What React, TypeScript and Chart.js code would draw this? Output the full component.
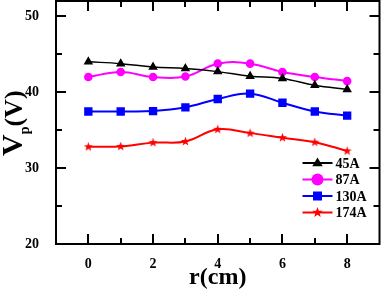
import React, { useEffect, useRef } from 'react';
import { Chart, registerables } from 'chart.js';

Chart.register(...registerables);

const radii = [0, 1, 2, 3, 4, 5, 6, 7, 8];
const vp45 = [44.0, 43.75, 43.3, 43.1, 42.7, 42.1, 41.8, 40.9, 40.35];
const vp87 = [42.0, 42.65, 42.0, 42.05, 43.75, 43.75, 42.65, 42.0, 41.45];
const vp130 = [37.45, 37.45, 37.5, 38.0, 39.1, 39.8, 38.6, 37.45, 36.9];
const vp174 = [32.8, 32.85, 33.35, 33.5, 35.1, 34.6, 34.0, 33.4, 32.25];
const seriesLabels = ['45A', '87A', '130A', '174A'];
const seriesColors = ['#000000', '#ff00ff', '#0000ff', '#ff0000'];
const xTickLabels = [0, 2, 4, 6, 8];
const xMinorTicks = [1, 3, 5, 7];
const yTickLabels = [20, 30, 40, 50];
const yMinorTicks = [25, 35, 45];
const xTitle = 'r(cm)';
const yTitleMain = 'V';
const yTitleSub = 'p';
const yTitleUnit = '(V)';

const FONT = '"Liberation Serif", "Times New Roman", serif';

function makeStar(size: number, outer: number, inner: number, color: string) {
  const c = document.createElement('canvas');
  c.width = size;
  c.height = size;
  const ctx = c.getContext('2d')!;
  ctx.fillStyle = color;
  ctx.beginPath();
  for (let i = 0; i < 10; i++) {
    const r = i % 2 === 0 ? outer : inner;
    const a = -Math.PI / 2 + (i * Math.PI) / 5;
    ctx.lineTo(size / 2 + r * Math.cos(a), size / 2 + r * Math.sin(a));
  }
  ctx.closePath();
  ctx.fill();
  return c;
}

function drawMarker(ctx: CanvasRenderingContext2D, kind: string, x: number, y: number, s: number, color: string) {
  ctx.save();
  ctx.fillStyle = color;
  ctx.beginPath();
  if (kind === 'triangle') {
    ctx.moveTo(x, y - s);
    ctx.lineTo(x + s * 0.95, y + s * 0.6);
    ctx.lineTo(x - s * 0.95, y + s * 0.6);
    ctx.closePath();
  } else if (kind === 'circle') {
    ctx.arc(x, y, s, 0, Math.PI * 2);
  } else if (kind === 'rect') {
    ctx.rect(x - s, y - s, 2 * s, 2 * s);
  } else {
    const inner = s * 0.42;
    for (let i = 0; i < 10; i++) {
      const r = i % 2 === 0 ? s : inner;
      const a = -Math.PI / 2 + (i * Math.PI) / 5;
      ctx.lineTo(x + r * Math.cos(a), y + r * Math.sin(a));
    }
    ctx.closePath();
  }
  ctx.fill();
  ctx.restore();
}

const framePlugin = {
  id: 'frameTicks',
  afterDraw(chart: any) {
    const { ctx, chartArea: a, scales } = chart;
    const xs = scales.x;
    const ys = scales.y;
    ctx.save();
    ctx.strokeStyle = '#000';
    ctx.lineWidth = 2;
    ctx.strokeRect(a.left, a.top, a.right - a.left, a.bottom - a.top);
    const major = 10;
    const minor = 6;
    ctx.beginPath();
    const xt = (v: number, len: number) => {
      const px = Math.round(xs.getPixelForValue(v));
      ctx.moveTo(px, a.bottom);
      ctx.lineTo(px, a.bottom - len);
      ctx.moveTo(px, a.top);
      ctx.lineTo(px, a.top + len);
    };
    const yt = (v: number, len: number) => {
      const py = Math.round(ys.getPixelForValue(v));
      ctx.moveTo(a.left, py);
      ctx.lineTo(a.left + len, py);
      ctx.moveTo(a.right, py);
      ctx.lineTo(a.right - len, py);
    };
    xTickLabels.forEach((v) => xt(v, major));
    xMinorTicks.forEach((v) => xt(v, minor));
    yTickLabels.forEach((v) => yt(v, major));
    yMinorTicks.forEach((v) => yt(v, minor));
    ctx.stroke();

    // x title
    ctx.fillStyle = '#000';
    ctx.font = `bold 24px ${FONT}`;
    ctx.textAlign = 'center';
    ctx.textBaseline = 'alphabetic';
    ctx.fillText(xTitle, (a.left + a.right) / 2, 284);

    // y title
    ctx.save();
    ctx.translate(22, 156);
    ctx.rotate(-Math.PI / 2);
    ctx.textAlign = 'left';
    ctx.font = `bold 30px ${FONT}`;
    ctx.fillText(yTitleMain, 0, 0);
    let w = ctx.measureText(yTitleMain).width;
    ctx.font = `bold 14px ${FONT}`;
    ctx.fillText(yTitleSub, w, 7);
    w += ctx.measureText(yTitleSub).width;
    ctx.font = `bold 26px ${FONT}`;
    ctx.fillText(yTitleUnit, w, 0);
    ctx.restore();

    // legend
    const kinds = ['triangle', 'circle', 'rect', 'star'];
    const sizes = [5.5, 6, 4.5, 5.5];
    const lx0 = a.right - 77;
    const lx1 = a.right - 47;
    const ly0 = a.bottom - 81;
    const step = 16.5;
    ctx.font = `bold 14px ${FONT}`;
    ctx.textAlign = 'left';
    ctx.textBaseline = 'middle';
    seriesLabels.forEach((lab, i) => {
      const y = ly0 + i * step;
      ctx.strokeStyle = seriesColors[i];
      ctx.lineWidth = 2;
      ctx.beginPath();
      ctx.moveTo(lx0, y);
      ctx.lineTo(lx1, y);
      ctx.stroke();
      drawMarker(ctx, kinds[i], (lx0 + lx1) / 2, y, sizes[i], seriesColors[i]);
      ctx.fillStyle = '#000';
      ctx.fillText(lab, lx1 + 3, y + 1);
    });
    ctx.restore();
  },
};

const noPad = (s: any) => {
  s.paddingTop = 0;
  s.paddingBottom = 0;
  s.paddingLeft = 0;
  s.paddingRight = 0;
};

export default function App() {
  const ref = useRef<HTMLCanvasElement>(null);
  useEffect(() => {
    document.body.style.margin = '0';
    const star = makeStar(11, 4.8, 2.0, seriesColors[3]);
    const mk = (vals: number[]) => radii.map((r, i) => ({ x: r, y: vals[i] }));
    const chart = new Chart(ref.current!, {
      type: 'line',
      data: {
        datasets: [
          { label: seriesLabels[0], data: mk(vp45), borderColor: seriesColors[0], backgroundColor: seriesColors[0], pointStyle: 'triangle', pointRadius: 4, borderWidth: 1.5, tension: 0.4 },
          { label: seriesLabels[1], data: mk(vp87), borderColor: seriesColors[1], backgroundColor: seriesColors[1], pointStyle: 'circle', pointRadius: 3.3, borderWidth: 2, tension: 0.4 },
          { label: seriesLabels[2], data: mk(vp130), borderColor: seriesColors[2], backgroundColor: seriesColors[2], pointStyle: 'rect', pointRadius: 4.5, borderWidth: 2, tension: 0.4 },
          { label: seriesLabels[3], data: mk(vp174), borderColor: seriesColors[3], backgroundColor: seriesColors[3], pointStyle: star as any, pointRadius: 4, borderWidth: 2, tension: 0.4 },
        ] as any,
      },
      options: {
        animation: false,
        responsive: false,
        layout: { autoPadding: false, padding: { top: 1, right: 2.5, left: 0, bottom: 0 } },
        plugins: { legend: { display: false }, tooltip: { enabled: false } },
        scales: {
          x: {
            type: 'linear',
            min: -1,
            max: 9,
            grid: { display: false },
            border: { display: false },
            afterBuildTicks: (s: any) => { s.ticks = xTickLabels.map((v) => ({ value: v })); },
            afterFit: (s: any) => { s.height = 48; noPad(s); },
            ticks: { color: '#000', padding: 4, font: { family: FONT, weight: 'bold', size: 14 } },
          },
          y: {
            type: 'linear',
            min: 20,
            max: 52,
            grid: { display: false },
            border: { display: false },
            afterBuildTicks: (s: any) => { s.ticks = yTickLabels.map((v) => ({ value: v })); },
            afterFit: (s: any) => { s.width = 56; noPad(s); },
            ticks: { color: '#000', padding: 9, font: { family: FONT, weight: 'bold', size: 14 } },
          },
        },
      } as any,
      plugins: [framePlugin],
    });
    return () => chart.destroy();
  }, []);
  return <canvas ref={ref} width={382} height={292} style={{ display: 'block' }} />;
}
